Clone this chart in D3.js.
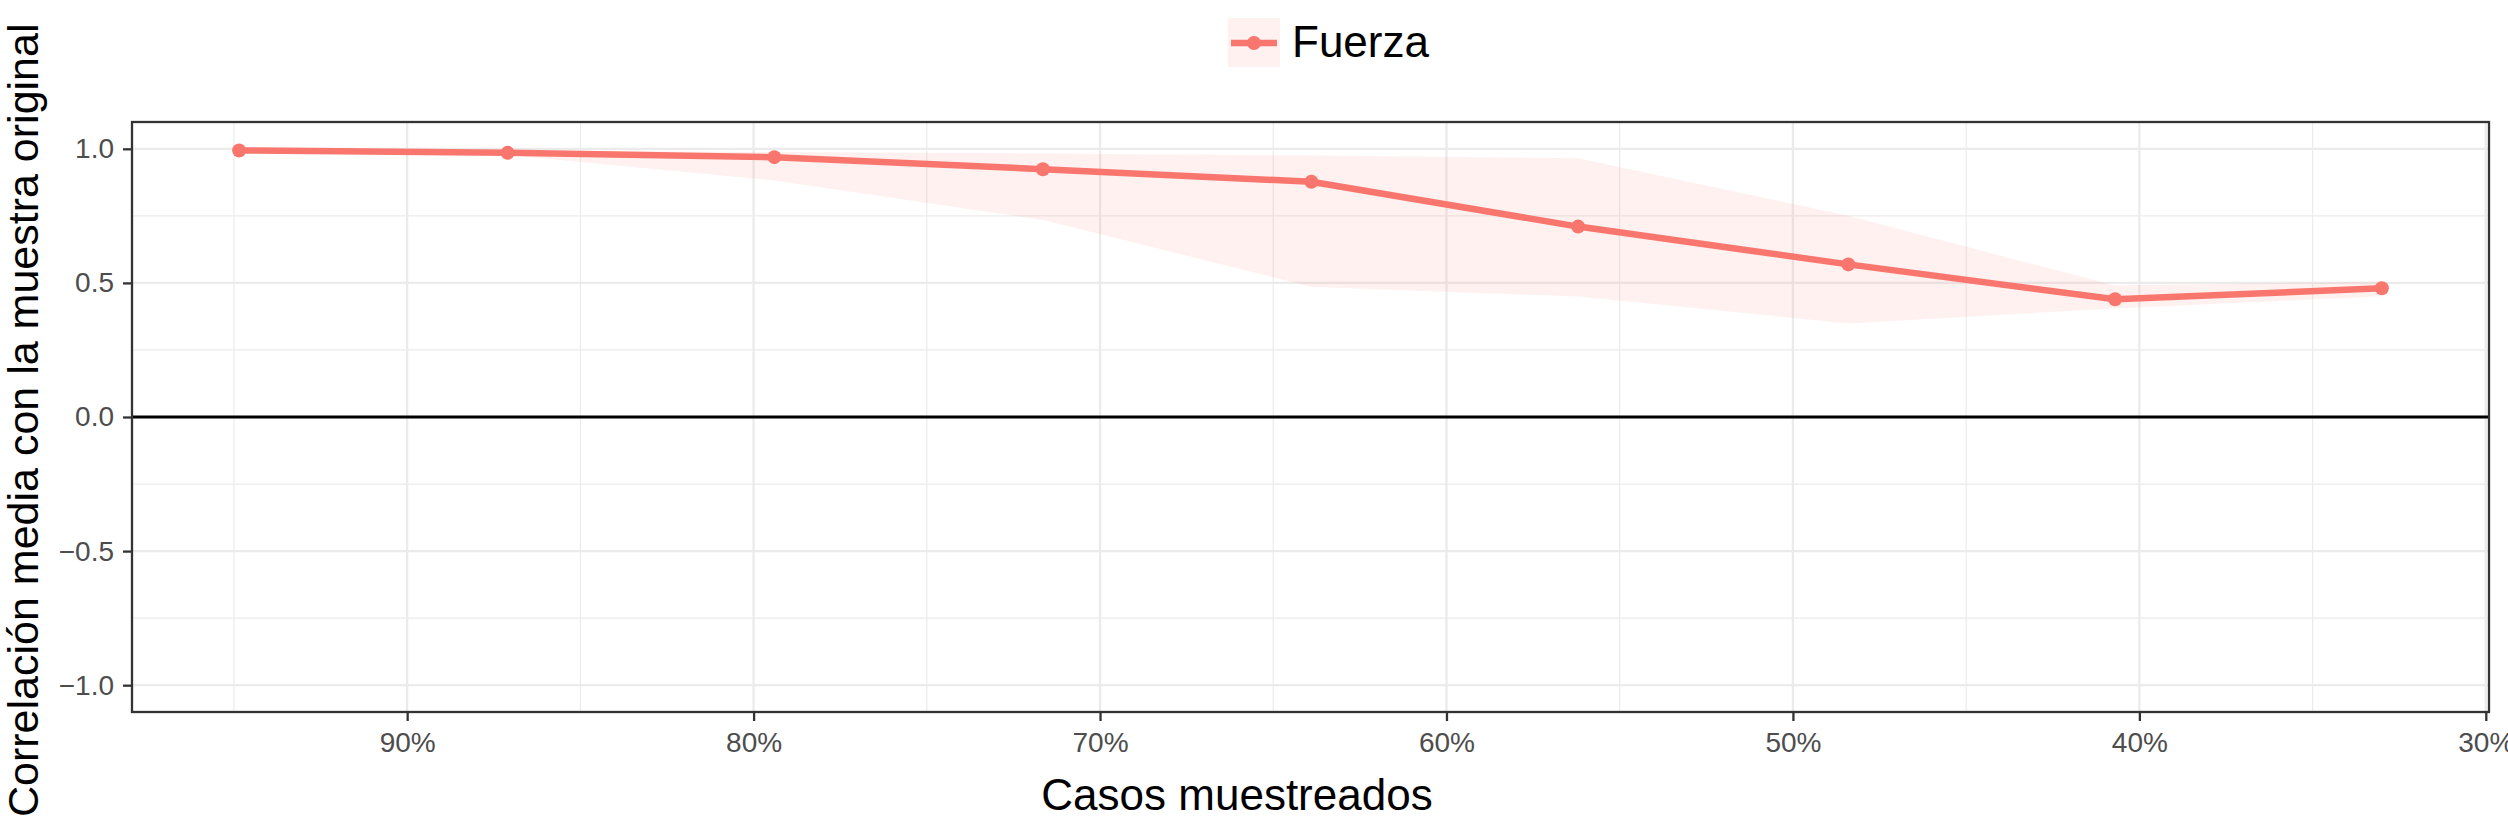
<!DOCTYPE html>
<html>
<head>
<meta charset="utf-8">
<script src="https://d3js.org/d3.v7.min.js"></script>
<style>
  body { margin: 0; background: #fff; }
  text { font-family: "Liberation Sans", Arial, Helvetica, sans-serif; }
</style>
</head>
<body>
<div id="grafico"></div>
<script>

// porcentaje de casos muestreados (eje x, invertido)
var casos = [94.85, 87.1, 79.4, 71.65, 63.9, 56.2, 48.4, 40.7, 33.0];
// correlacion media y banda (superior / inferior)
var media    = [0.994, 0.985, 0.969, 0.924, 0.877, 0.710, 0.569, 0.439, 0.480];
var superior = [0.998, 0.993, 0.988, 0.983, 0.975, 0.965, 0.750, 0.490, 0.505];
var inferior = [0.990, 0.977, 0.882, 0.735, 0.486, 0.449, 0.349, 0.405, 0.450];

var serie = "Fuerza";
var ticks_x = [90, 80, 70, 60, 50, 40, 30];
var ticks_x_menor = [95, 85, 75, 65, 55, 45, 35];
var ticks_y = [-1, -0.5, 0, 0.5, 1];
var ticks_y_menor = [-0.75, -0.25, 0.25, 0.75];

var color = "#F8766D";

// set the dimensions and margins of the graph
var margin = {top: 122, right: 19, bottom: 109, left: 132},
  width = 2508 - margin.left - margin.right,
  height = 821 - margin.top - margin.bottom;

var root = d3.select("#grafico")
  .append("svg")
  .attr("width", 2508)
  .attr("height", 821)
  .style("display", "block");

root.append("rect")
  .attr("width", 2508)
  .attr("height", 821)
  .attr("fill", "#fff");

var svg = root.append("g")
  .attr("transform", "translate(" + margin.left + "," + margin.top + ")");

// datos juntos para las marcas
var data = casos.map(function(c, i) {
  return {casos: c, media: media[i], sup: superior[i], inf: inferior[i]};
});

// scales (expansion del 5% como ggplot)
var ext = d3.extent(casos);
var pad = (ext[1] - ext[0]) * 0.05;
var x = d3.scaleLinear()
  .domain([ext[1] + pad, ext[0] - pad])
  .range([0, width]);

var y = d3.scaleLinear()
  .domain([-1.1, 1.1])
  .range([height, 0]);

// grid menor
svg.selectAll(".gxm")
  .data(ticks_x_menor)
  .enter()
  .append("line")
    .attr("x1", function(d) { return x(d); })
    .attr("x2", function(d) { return x(d); })
    .attr("y1", 0)
    .attr("y2", height)
    .attr("stroke", "#EBEBEB")
    .attr("stroke-width", 1.2);

svg.selectAll(".gym")
  .data(ticks_y_menor)
  .enter()
  .append("line")
    .attr("x1", 0)
    .attr("x2", width)
    .attr("y1", function(d) { return y(d); })
    .attr("y2", function(d) { return y(d); })
    .attr("stroke", "#EBEBEB")
    .attr("stroke-width", 1.2);

// grid mayor
svg.selectAll(".gx")
  .data(ticks_x)
  .enter()
  .append("line")
    .attr("x1", function(d) { return x(d); })
    .attr("x2", function(d) { return x(d); })
    .attr("y1", 0)
    .attr("y2", height)
    .attr("stroke", "#EBEBEB")
    .attr("stroke-width", 2.3);

svg.selectAll(".gy")
  .data(ticks_y)
  .enter()
  .append("line")
    .attr("x1", 0)
    .attr("x2", width)
    .attr("y1", function(d) { return y(d); })
    .attr("y2", function(d) { return y(d); })
    .attr("stroke", "#EBEBEB")
    .attr("stroke-width", 2.3);

// linea del cero
svg.append("line")
  .attr("x1", 0)
  .attr("x2", width)
  .attr("y1", y(0))
  .attr("y2", y(0))
  .attr("stroke", "#000")
  .attr("stroke-width", 3);

// banda
svg.append("path")
  .datum(data)
  .attr("fill", color)
  .attr("fill-opacity", 0.1)
  .attr("d", d3.area()
    .x(function(d) { return x(d.casos); })
    .y0(function(d) { return y(d.inf); })
    .y1(function(d) { return y(d.sup); }));

// linea media
svg.append("path")
  .datum(data)
  .attr("fill", "none")
  .attr("stroke", color)
  .attr("stroke-width", 6.5)
  .attr("stroke-linejoin", "round")
  .attr("d", d3.line()
    .x(function(d) { return x(d.casos); })
    .y(function(d) { return y(d.media); }));

svg.selectAll(".punto")
  .data(data)
  .enter()
  .append("circle")
    .attr("cx", function(d) { return x(d.casos); })
    .attr("cy", function(d) { return y(d.media); })
    .attr("r", 7)
    .attr("fill", color);

// axis
var ax = svg.append("g")
  .attr("transform", "translate(0," + height + ")")
  .call(d3.axisBottom(x).tickValues(ticks_x).tickSize(9).tickPadding(11)
    .tickFormat(function(d) { return d + "%"; }));

var ay = svg.append("g")
  .call(d3.axisLeft(y).tickValues(ticks_y).tickSize(9).tickPadding(9)
    .tickFormat(d3.format(".1f")));

[ax, ay].forEach(function(a) {
  a.select(".domain").remove();
  a.selectAll("line").attr("stroke", "#333").attr("stroke-width", 2.3);
  a.selectAll("text")
    .attr("fill", "#4D4D4D")
    .style("font-size", "28px")
    .style("font-family", "'Liberation Sans', Arial, Helvetica, sans-serif");
});

// borde del panel
svg.append("rect")
  .attr("width", width)
  .attr("height", height)
  .attr("fill", "none")
  .attr("stroke", "#333")
  .attr("stroke-width", 2.3);

// text label for the x axis
root.append("text")
  .attr("x", 1237)
  .attr("y", 810)
  .attr("text-anchor", "middle")
  .style("font-size", "44px")
  .attr("fill", "#000")
  .text("Casos muestreados");

// text label for the y axis
root.append("text")
  .attr("transform", "translate(38,817) rotate(-90)")
  .attr("text-anchor", "start")
  .style("font-size", "43px")
  .attr("fill", "#000")
  .text("Correlación media con la muestra original");

// leyenda
var ley = root.append("g");
ley.append("rect")
  .attr("x", 1228)
  .attr("y", 18)
  .attr("width", 52)
  .attr("height", 49)
  .attr("fill", color)
  .attr("fill-opacity", 0.1);
ley.append("line")
  .attr("x1", 1231)
  .attr("x2", 1277)
  .attr("y1", 43)
  .attr("y2", 43)
  .attr("stroke", color)
  .attr("stroke-width", 6.5);
ley.append("circle")
  .attr("cx", 1254)
  .attr("cy", 43)
  .attr("r", 7)
  .attr("fill", color);
ley.append("text")
  .attr("x", 1292)
  .attr("y", 57)
  .style("font-size", "44px")
  .attr("fill", "#000")
  .text(serie);

</script>
</body>
</html>
